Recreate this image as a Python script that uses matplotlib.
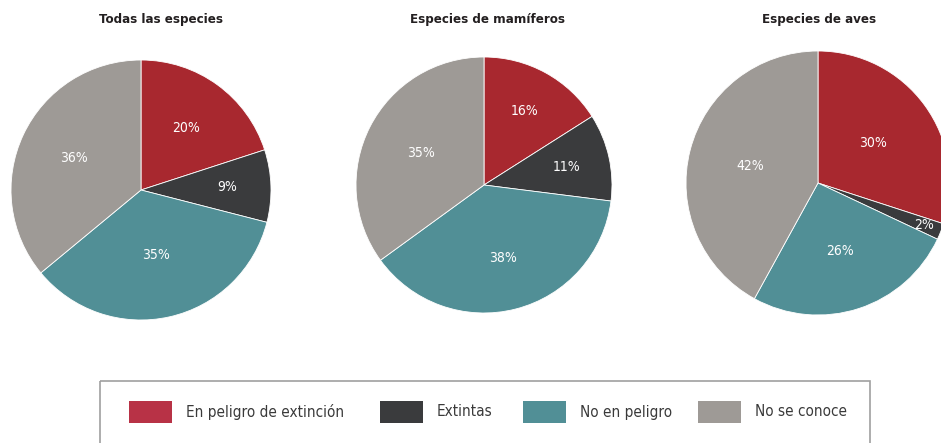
import numpy as np
import matplotlib
matplotlib.use('Agg')
import matplotlib.pyplot as plt
from matplotlib.patches import Rectangle

plt.rcParams['font.family'] = ['DejaVu Sans']
plt.rcParams['font.stretch'] = 'condensed'

categories = ['En peligro de extinción', 'Extintas', 'No en peligro', 'No se conoce']
titles = ['Todas las especies', 'Especies de mamíferos', 'Especies de aves']
todas = [20, 9, 35, 36]
mamiferos = [16, 11, 38, 35]
aves = [30, 2, 26, 42]

colors = ['#A8282F', '#3A3B3D', '#518F96', '#9E9A96']
legend_colors = ['#B83246', '#3A3B3D', '#518F96', '#9E9A96']

W, H = 941, 443
fig = plt.figure(figsize=(W / 100, H / 100), dpi=100)

# pixel layout of each pie: centre x, centre y, radius, title x, label distances
layout = [
    (141, 190, 130, 161, [0.59, 0.66, 0.51, 0.57]),
    (484, 185, 128, 487, [0.66, 0.66, 0.59, 0.55]),
    (818, 183, 132, 819, [0.51, 0.86, 0.54, 0.53]),
]


def draw_pie(values, title, cx, cy, r, tx, dists):
    ax = fig.add_axes([(cx - r) / W, 1 - (cy + r) / H, 2 * r / W, 2 * r / H])
    wedges, _ = ax.pie(values, colors=colors, startangle=90, counterclock=False,
                       radius=1, wedgeprops=dict(edgecolor='white', linewidth=0.6))
    for w, v, d in zip(wedges, values, dists):
        ang = np.deg2rad((w.theta1 + w.theta2) / 2)
        ax.text(d * np.cos(ang), d * np.sin(ang), f'{v}%', color='white',
                ha='center', va='center', fontsize=10)
    ax.set_xlim(-1, 1)
    ax.set_ylim(-1, 1)
    ax.axis('off')
    fig.text(tx / W, 1 - 19 / H, title, ha='center', va='center',
             fontsize=9.5, fontweight='bold', color='#231F20')


for values, title, (cx, cy, r, tx, dists) in zip([todas, mamiferos, aves], titles, layout):
    draw_pie(values, title, cx, cy, r, tx, dists)

# legend box drawn in pixel coordinates
lax = fig.add_axes([0, 0, 1, 1], zorder=-1)
lax.set_xlim(0, W)
lax.set_ylim(H, 0)
lax.axis('off')
lax.add_patch(Rectangle((100, 381), 770, 80, facecolor='none', edgecolor='#A0A0A0', linewidth=1.2))
patch_x = [129, 380, 523, 698]
for px, c, label in zip(patch_x, legend_colors, categories):
    lax.add_patch(Rectangle((px, 401), 43, 22, facecolor=c, edgecolor='none'))
    lax.text(px + 57, 412, label, ha='left', va='center', fontsize=11, color='#3A3A3A')

fig.savefig('out.png', dpi=100)
